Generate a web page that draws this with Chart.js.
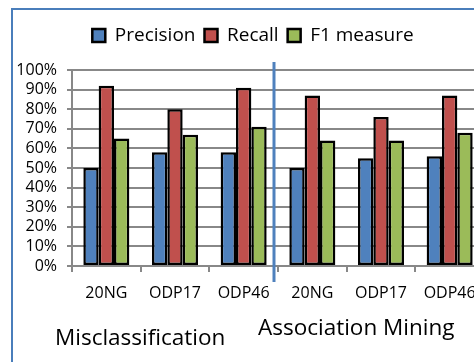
<!DOCTYPE html>
<html>
<head>
<meta charset="utf-8">
<script src="https://cdn.jsdelivr.net/npm/chart.js@4"></script>
<style>
  html, body { margin: 0; padding: 0; background: #fff; overflow: hidden; }
  #wrap { position: relative; width: 474px; height: 362px; overflow: hidden; background: #fff; }
  #frame { position: absolute; left: 11px; top: 8px; width: 480px; height: 400px;
           border-left: 2px solid #4a7ebb; border-top: 2px solid #4a7ebb; }
  #holder { position: absolute; left: 0; top: 0; width: 500px; height: 362px; }
  .group { position: absolute; font-family: "Open Sans", sans-serif; font-size: 22.5px; color: #000; white-space: nowrap; }
</style>
</head>
<body>
<div id="wrap">
  <div id="frame"></div>
  <div id="holder"><canvas id="c" width="500" height="362"></canvas></div>
  <div class="group" style="left:55px; top:321px;">Misclassification</div>
  <div class="group" style="left:258px; top:311px;">Association Mining</div>
</div>
<script>
// Datasets and methods compared
const categories = ["20NG", "ODP17", "ODP46", "20NG", "ODP17", "ODP46"];
const seriesNames = ["Precision", "Recall", "F1 measure"];
const precision = [50, 58, 58, 50, 55, 56];
const recall = [92, 80, 91, 87, 76, 87];
const f1 = [65, 67, 71, 64, 64, 68];
const yTicks = [0, 10, 20, 30, 40, 50, 60, 70, 80, 90, 100];

const colors = ["#4f81bd", "#c0504d", "#9bbb59"];
const values = [precision, recall, f1];

// Extra space between the legend and the plot, and a small shift to the right
const legendPlacement = {
  id: "legendPlacement",
  beforeInit(chart) {
    const fit = chart.legend.fit;
    chart.legend.fit = function () {
      fit.call(this);
      this.height += 15;
    };
  },
  afterLayout(chart) {
    chart.legend.left += 11;
    chart.legend.right += 11;
  }
};

// Vertical separator between the two method groups
const separator = {
  id: "separator",
  afterDatasetsDraw(chart) {
    const x = chart.scales.x;
    const area = chart.chartArea;
    const half = (x.getPixelForValue(1) - x.getPixelForValue(0)) / 2;
    const px = x.getPixelForValue(2) + half - 4;
    const ctx = chart.ctx;
    ctx.save();
    ctx.strokeStyle = "#4f81bd";
    ctx.lineWidth = 3;
    ctx.beginPath();
    ctx.moveTo(px, area.top - 8);
    ctx.lineTo(px, area.bottom + 16);
    ctx.stroke();
    ctx.restore();
  }
};

new Chart(document.getElementById("c"), {
  type: "bar",
  data: {
    labels: categories,
    datasets: seriesNames.map((name, i) => ({
      label: name,
      data: values[i],
      backgroundColor: colors[i],
      borderColor: "#000",
      borderWidth: 2.5,
      borderSkipped: false,
      categoryPercentage: 0.67,
      barPercentage: 1.0
    }))
  },
  options: {
    responsive: false,
    animation: false,
    devicePixelRatio: 1,
    layout: { padding: { left: 0, right: 16, top: 17, bottom: 0 } },
    plugins: {
      legend: {
        position: "top",
        labels: {
          font: { family: "Open Sans", size: 19 },
          color: "#000",
          boxWidth: 13,
          boxHeight: 13,
          padding: 9
        }
      },
      tooltip: { enabled: false }
    },
    scales: {
      x: {
        offset: true,
        grid: { display: true, drawOnChartArea: false, drawTicks: true, tickLength: 6, color: "#888", lineWidth: 2, offset: true },
        border: { display: true, color: "#888", width: 2 },
        ticks: { font: { family: "Open Sans", size: 16 }, color: "#000", padding: 12, maxRotation: 0 },
        afterFit(scale) { scale.height = 96; }
      },
      y: {
        min: 0,
        max: 100,
        afterBuildTicks(scale) { scale.ticks = yTicks.map(v => ({ value: v })); },
        grid: { color: "#888", lineWidth: 2, drawTicks: true, tickLength: 5 },
        border: { display: true, color: "#888", width: 2 },
        ticks: { font: { family: "Open Sans", size: 16 }, color: "#000", padding: 10, autoSkip: false, callback: v => v + "%" },
        afterFit(scale) { scale.width = 72; }
      }
    }
  },
  plugins: [legendPlacement, separator]
});
</script>
</body>
</html>
